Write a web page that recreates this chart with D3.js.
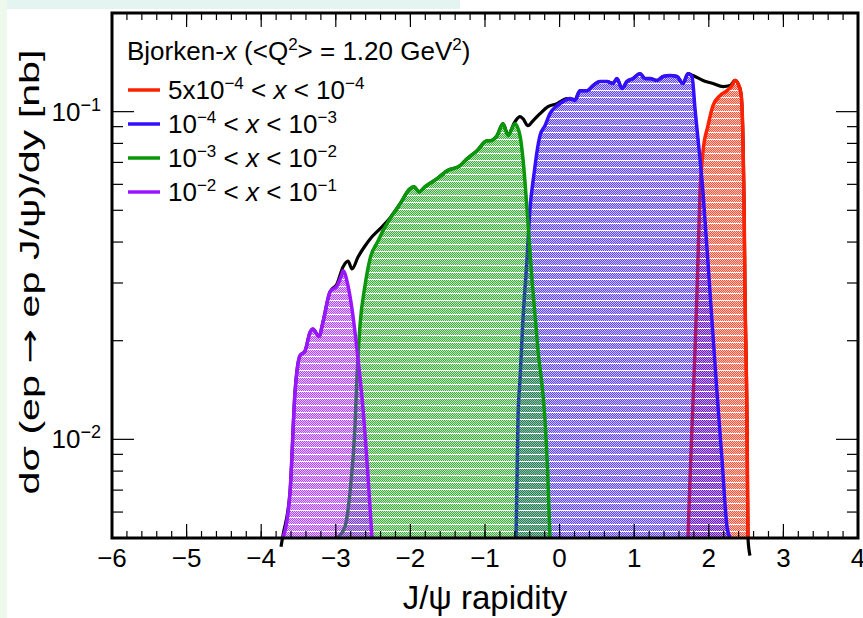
<!DOCTYPE html>
<html>
<head>
<meta charset="utf-8">
<script src="https://cdn.jsdelivr.net/npm/d3@7"></script>
<style>
body { margin: 0; background: #fff; }
text { font-family: "Liberation Sans", Arial, Helvetica, sans-serif; fill: #000; }
</style>
</head>
<body>
<svg id="chart" width="863" height="618"></svg>
<script>
// ---- data (rapidity, dsigma/dy in nb) ----
var totalX = [-3.735, -3.708, -3.614, -3.547, -3.480, -3.413, -3.346, -3.306, -3.225, -3.172, -3.078, -2.984,
    -2.903, -2.836, -2.783, -2.702, -2.609, -2.515, -2.408, -2.273, -2.139, -2.005, -1.952, -1.885, -1.804,
    -1.643, -1.509, -1.335, -1.241, -1.107, -0.973, -0.933, -0.839, -0.759, -0.692, -0.598, -0.531, -0.491,
    -0.424, -0.357, -0.263, -0.156, -0.035, 0.099, 0.206, 0.273, 0.367, 0.448, 0.542, 0.635, 0.716, 0.769,
    0.836, 0.903, 0.984, 1.078, 1.145, 1.212, 1.306, 1.386, 1.480, 1.574, 1.654, 1.721, 1.788, 1.922, 2.056,
    2.190, 2.284, 2.351, 2.391, 2.432, 2.458, 2.472, 2.485, 2.512, 2.525, 2.552];
var totalY = [0.0047, 0.0051, 0.00689, 0.0139, 0.0180, 0.0186, 0.0212, 0.0217, 0.0206, 0.0228, 0.0282, 0.0298,
    0.0336, 0.0350, 0.0331, 0.0360, 0.0389, 0.0415, 0.0439, 0.0474, 0.0523, 0.0582, 0.0590, 0.0569, 0.0590,
    0.0624, 0.0660, 0.0684, 0.0718, 0.0760, 0.0815, 0.0815, 0.0845, 0.0919, 0.0851, 0.0932, 0.0966, 0.0952,
    0.0906, 0.0938, 0.0986, 0.1036, 0.1058, 0.1096, 0.1088, 0.1159, 0.1159, 0.1201, 0.1236, 0.1236, 0.1219, 0.1262,
    0.1176, 0.1236, 0.1262, 0.1306, 0.1262, 0.1262, 0.1245, 0.1280, 0.1289, 0.1280, 0.1219, 0.1306, 0.1289, 0.1245, 0.1219,
    0.1192, 0.1201, 0.1245, 0.1219, 0.1135, 0.0826, 0.0542, 0.0282, 0.0115, 0.0050, 0.00442];

var redX = [1.721, 1.748, 1.775, 1.815, 1.842, 1.882, 1.922, 1.989, 2.056, 2.150, 2.244, 2.311, 2.351, 2.391,
    2.432, 2.458, 2.472, 2.485, 2.512, 2.525];
var redY = [0.005, 0.00755, 0.01096, 0.0188, 0.0282, 0.0569, 0.0755, 0.0906, 0.1043, 0.1119, 0.1159, 0.1201,
    0.1245, 0.1219, 0.1135, 0.0826, 0.0542, 0.0282, 0.0115, 0.005];

var blueX = [-0.584, -0.558, -0.531, -0.491, -0.437, -0.397, -0.343, -0.303, -0.263, -0.196, -0.129, -0.035,
    0.046, 0.139, 0.206, 0.273, 0.367, 0.448, 0.542, 0.635, 0.716, 0.769, 0.836, 0.903, 0.984, 1.078, 1.145,
    1.212, 1.306, 1.386, 1.480, 1.574, 1.654, 1.721, 1.775, 1.815, 1.922, 2.016, 2.110, 2.177, 2.244, 2.284];
var blueY = [0.005, 0.0115, 0.0152, 0.0233, 0.0355, 0.0505, 0.0645, 0.0755, 0.0845, 0.0906, 0.0986, 0.1043,
    0.1073, 0.1096, 0.1081, 0.1159, 0.1159, 0.1201, 0.1236, 0.1236, 0.1219, 0.1262, 0.1176, 0.1236, 0.1262, 0.1306, 0.1262,
    0.1262, 0.1245, 0.1280, 0.1289, 0.1280, 0.1219, 0.1306, 0.1280, 0.1021, 0.0569, 0.0282, 0.0139, 0.00869, 0.00542, 0.005];

var greenX = [-2.984, -2.877, -2.810, -2.743, -2.716, -2.676, -2.609, -2.542, -2.434, -2.354, -2.273, -2.139,
    -2.005, -1.952, -1.885, -1.804, -1.643, -1.509, -1.335, -1.241, -1.107, -0.973, -0.933, -0.839, -0.759,
    -0.692, -0.598, -0.531, -0.491, -0.437, -0.370, -0.290, -0.196, -0.156, -0.129];
var greenY = [0.005, 0.00542, 0.00689, 0.01096, 0.0156, 0.0222, 0.0294, 0.0355, 0.0403, 0.0439, 0.0471, 0.0523,
    0.0582, 0.0590, 0.0569, 0.0590, 0.0624, 0.0660, 0.0684, 0.0718, 0.0760, 0.0815, 0.0815, 0.0845, 0.0919,
    0.0845, 0.0919, 0.0845, 0.0718, 0.0505, 0.0308, 0.0188, 0.0115, 0.00755, 0.005];

var purpleX = [-3.708, -3.614, -3.547, -3.480, -3.413, -3.346, -3.306, -3.225, -3.172, -3.078, -2.984, -2.917,
    -2.903, -2.836, -2.783, -2.702, -2.635, -2.568, -2.515];
var purpleY = [0.005, 0.00689, 0.0139, 0.0180, 0.0186, 0.0212, 0.0217, 0.0206, 0.0228, 0.0282, 0.0294, 0.0320,
    0.0327, 0.0294, 0.0250, 0.0176, 0.0124, 0.0077, 0.005];

var xTickValues = [-6, -5, -4, -3, -2, -1, 0, 1, 2, 3, 4];
var yMajorValues = [0.01, 0.1];
var yMajorExponents = ["\u22122", "\u22121"];
var yMinorValues = [0.006, 0.007, 0.008, 0.009, 0.02, 0.03, 0.04, 0.05, 0.06, 0.07, 0.08, 0.09];

var legendHeader = ["Bjorken-", "x", " (<Q", "2", "> = 1.20 GeV", "2", ")"];
var legendLabels = [
    ["5x10", "\u22124", "10", "\u22124"],
    ["10", "\u22124", "10", "\u22123"],
    ["10", "\u22123", "10", "\u22122"],
    ["10", "\u22122", "10", "\u22121"]
];
var seriesColors = ["#ff2200", "#3311ff", "#0b970b", "#9a16ff"];

// ---- layout ----
var svg = d3.select("#chart");
var padL = 112, padR = 858, padT = 13, padB = 538;

// light page edges seen in the screenshot
svg.append("rect").attr("x", 0).attr("y", 0).attr("width", 863).attr("height", 618).attr("fill", "#ffffff");
svg.append("rect").attr("x", 0).attr("y", 0).attr("width", 460).attr("height", 9).attr("fill", "#e4f5f1");
svg.append("rect").attr("x", 0).attr("y", 0).attr("width", 7).attr("height", 618).attr("fill", "#eef8ec");

var x = d3.scaleLinear().domain([-6, 4]).range([padL, padR]);
var y = d3.scaleLog().domain([0.005, 0.2]).range([padB, padT]);

// fill patterns: dotted checker with thin white rows, like ROOT's hatch
var defs = svg.append("defs");
var patternIds = ["patRed", "patBlue", "patGreen", "patPurple"];
seriesColors.forEach(function(c, i) {
    var p = defs.append("pattern")
        .attr("id", patternIds[i])
        .attr("patternUnits", "userSpaceOnUse")
        .attr("width", 2).attr("height", 7);
    p.append("rect").attr("x", 0).attr("y", 0).attr("width", 2).attr("height", 6)
        .attr("fill", c).attr("fill-opacity", 0.25);
    for (var r = 0; r < 6; r++) {
        p.append("rect").attr("x", r % 2).attr("y", r).attr("width", 1).attr("height", 1)
            .attr("fill", c).attr("fill-opacity", 0.72);
    }
});

var clip = defs.append("clipPath").attr("id", "frameClip");
clip.append("rect").attr("x", padL).attr("y", padT).attr("width", padR - padL).attr("height", padB - padT);

function pairs(xs, ys) {
    return xs.map(function(v, i) { return [v, ys[i]]; });
}

var line = d3.line()
    .x(function(d) { return x(d[0]); })
    .y(function(d) { return y(d[1]); })
    .curve(d3.curveMonotoneX);

var area = d3.area()
    .x(function(d) { return x(d[0]); })
    .y0(padB)
    .y1(function(d) { return y(Math.max(d[1], 0.005)); })
    .curve(d3.curveMonotoneX);

// total (black) first, under everything
svg.append("path")
    .attr("d", line(pairs(totalX, totalY)))
    .attr("fill", "none")
    .attr("stroke", "#000")
    .attr("stroke-width", 3.2)
    .attr("stroke-linejoin", "round");

// red, blue, green, purple: each fill covers the previous outline
var series = [pairs(redX, redY), pairs(blueX, blueY), pairs(greenX, greenY), pairs(purpleX, purpleY)];
series.forEach(function(s, i) {
    svg.append("path")
        .attr("d", area(s))
        .attr("fill", "url(#" + patternIds[i] + ")")
        .attr("clip-path", "url(#frameClip)");
    svg.append("path")
        .attr("d", line(s))
        .attr("fill", "none")
        .attr("stroke", seriesColors[i])
        .attr("stroke-width", 3.5)
        .attr("stroke-linejoin", "round");
});

// ---- axes: ticks on all four sides pointing inward ----
var xMinor = d3.range(-6, 4.001, 0.2);
function xTicks(yPos, dir) {
    svg.append("g").selectAll("line").data(xMinor).enter().append("line")
        .attr("x1", function(d) { return x(d); }).attr("x2", function(d) { return x(d); })
        .attr("y1", yPos).attr("y2", yPos + dir * 7)
        .attr("stroke", "#000").attr("stroke-width", 1.2);
    svg.append("g").selectAll("line").data(xTickValues).enter().append("line")
        .attr("x1", function(d) { return x(d); }).attr("x2", function(d) { return x(d); })
        .attr("y1", yPos).attr("y2", yPos + dir * 14)
        .attr("stroke", "#000").attr("stroke-width", 1.2);
}
xTicks(padB, -1);
xTicks(padT, 1);

function yTicks(xPos, dir) {
    svg.append("g").selectAll("line").data(yMinorValues).enter().append("line")
        .attr("x1", xPos).attr("x2", xPos + dir * 11)
        .attr("y1", function(d) { return y(d); }).attr("y2", function(d) { return y(d); })
        .attr("stroke", "#000").attr("stroke-width", 1.2);
    svg.append("g").selectAll("line").data(yMajorValues).enter().append("line")
        .attr("x1", xPos).attr("x2", xPos + dir * 22)
        .attr("y1", function(d) { return y(d); }).attr("y2", function(d) { return y(d); })
        .attr("stroke", "#000").attr("stroke-width", 1.2);
}
yTicks(padL, 1);
yTicks(padR, -1);

// frame
svg.append("rect")
    .attr("x", padL).attr("y", padT)
    .attr("width", padR - padL).attr("height", padB - padT)
    .attr("fill", "none").attr("stroke", "#000").attr("stroke-width", 3);

// x tick labels
svg.append("g").selectAll("text").data(xTickValues).enter().append("text")
    .attr("x", function(d) { return x(d); })
    .attr("y", 567)
    .attr("text-anchor", "middle")
    .style("font-size", "26px")
    .text(function(d) { return d < 0 ? "\u2212" + Math.abs(d) : d; });

// y tick labels 10^-n
yMajorValues.forEach(function(v, i) {
    var t = svg.append("text")
        .attr("x", 101).attr("y", y(v) + 9)
        .attr("text-anchor", "end")
        .style("font-size", "26px");
    t.append("tspan").text("10");
    t.append("tspan").attr("dy", -10).style("font-size", "18px").text(yMajorExponents[i]);
});

// axis titles
svg.append("text")
    .attr("x", (padL + padR) / 2).attr("y", 609)
    .attr("text-anchor", "middle")
    .style("font-size", "33px")
    .text("J/\u03c8 rapidity");

var yt = svg.append("text")
    .attr("transform", "translate(39," + 272 + ") rotate(-90)")
    .attr("text-anchor", "middle")
    .attr("textLength", 445)
    .attr("lengthAdjust", "spacingAndGlyphs")
    .style("font-size", "28px");
yt.append("tspan").text("d\u03c3 (ep ");
yt.append("tspan").style("font-family", "DejaVu Sans").text("\u2192");
yt.append("tspan").text(" ep J/\u03c8)/dy [nb]");

// ---- legend ----
var hdr = svg.append("text").attr("x", 127).attr("y", 60).style("font-size", "26px");
hdr.append("tspan").text(legendHeader[0]);
hdr.append("tspan").style("font-style", "italic").text(legendHeader[1]);
hdr.append("tspan").text(legendHeader[2]);
hdr.append("tspan").attr("dy", -10).style("font-size", "17px").text(legendHeader[3]);
hdr.append("tspan").attr("dy", 10).text(legendHeader[4]);
hdr.append("tspan").attr("dy", -10).style("font-size", "17px").text(legendHeader[5]);
hdr.append("tspan").attr("dy", 10).text(legendHeader[6]);

var rowY = [90, 124, 158, 192];
legendLabels.forEach(function(lab, i) {
    svg.append("line")
        .attr("x1", 128).attr("x2", 160)
        .attr("y1", rowY[i]).attr("y2", rowY[i])
        .attr("stroke", seriesColors[i]).attr("stroke-width", 3.5);
    var t = svg.append("text").attr("x", 168).attr("y", rowY[i] + 9).style("font-size", "26px");
    t.append("tspan").text(lab[0]);
    t.append("tspan").attr("dy", -10).style("font-size", "17px").text(lab[1]);
    t.append("tspan").attr("dy", 10).text(" < ");
    t.append("tspan").style("font-style", "italic").text("x");
    t.append("tspan").text(" < " + lab[2]);
    t.append("tspan").attr("dy", -10).style("font-size", "17px").text(lab[3]);
});
</script>
</body>
</html>
